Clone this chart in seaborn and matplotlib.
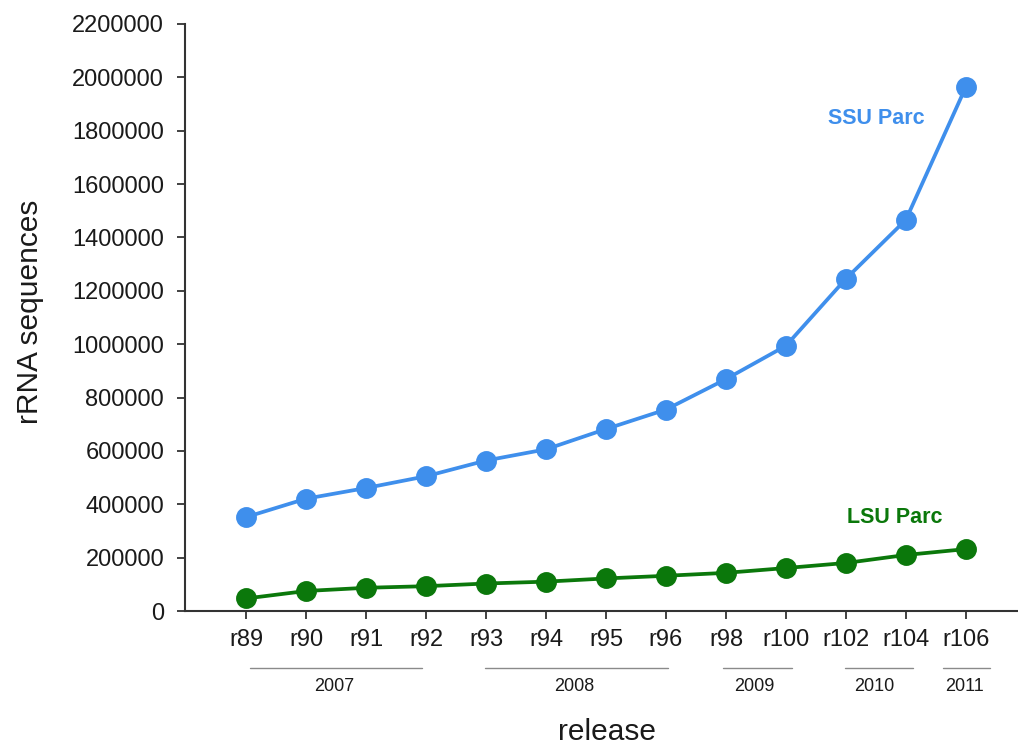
import matplotlib
matplotlib.use("Agg")
import matplotlib.pyplot as plt
import matplotlib.transforms as mtransforms
import pandas as pd
import seaborn as sns

# Release series and sequence counts
releases = ["r89", "r90", "r91", "r92", "r93", "r94", "r95",
            "r96", "r98", "r100", "r102", "r104", "r106"]
ssu_parc = [352000, 421000, 461000, 505000, 564000, 606000, 682000,
            755000, 869000, 994000, 1245000, 1466000, 1964000]
lsu_parc = [47000, 75000, 87000, 93000, 103000, 110000, 122000,
            132000, 143000, 161000, 180000, 210000, 232000]

# Release years: (label, first release, last release)
years = [("2007", "r89", "r92"),
         ("2008", "r93", "r96"),
         ("2009", "r98", "r100"),
         ("2010", "r102", "r104"),
         ("2011", "r106", "r106")]

y_ticks = [0, 200000, 400000, 600000, 800000, 1000000, 1200000,
           1400000, 1600000, 1800000, 2000000, 2200000]

SSU_COLOR = "#3f8fec"
LSU_COLOR = "#0b780b"

# bracket overhang (left, right) in category units for each year group
bracket_pad = [(-0.07, -0.07), (0.02, 0.04), (0.05, 0.10), (0.02, 0.12), (0.38, 0.41)]

sns.set_theme(style="ticks")
plt.rcParams["font.family"] = ["Liberation Sans", "DejaVu Sans"]

df = pd.DataFrame({
    "release": releases * 2,
    "count": ssu_parc + lsu_parc,
    "subunit": ["SSU Parc"] * len(releases) + ["LSU Parc"] * len(releases),
})

fig = plt.figure(figsize=(10.18, 7.47), dpi=100)
W, H = 1018, 747
left, right, bottom, top = 185, 1018, 611, 24
ax = fig.add_axes([left / W, 1 - bottom / H, (right - left) / W, (bottom - top) / H])

for name, color in (("SSU Parc", SSU_COLOR), ("LSU Parc", LSU_COLOR)):
    sns.pointplot(data=df[df.subunit == name], x="release", y="count",
                  order=releases, color=color, markers="o", markersize=13,
                  linewidth=2.7, ax=ax, errorbar=None)

ax.set_ylim(0, 2200000)
ax.set_xlim(-1.02, 12.87)
ax.set_yticks(y_ticks)
ax.set_yticklabels([str(v) for v in y_ticks])
ax.tick_params(axis="y", labelsize=17, length=6, width=1.3, color="#333333",
               pad=9, labelcolor="#1a1a1a")
ax.tick_params(axis="x", labelsize=17, length=6, width=1.3, color="#333333",
               pad=7, labelcolor="#1a1a1a")

sns.despine(ax=ax)
for side in ("left", "bottom"):
    ax.spines[side].set_color("#333333")
    ax.spines[side].set_linewidth(1.5)

ax.set_xlabel("release", fontsize=21.5, color="#1a1a1a")
ax.set_ylabel("rRNA sequences", fontsize=21.5, color="#1a1a1a")
ax.xaxis.label.set_va("center")
ax.yaxis.label.set_va("center")
ax.xaxis.set_label_coords(0.507, -0.206)
ax.yaxis.set_label_coords(-0.186, 0.509)

# Series labels
ax.text(10.5, 1847000, "SSU Parc", color=SSU_COLOR,
        fontsize=15.5, fontweight="bold", ha="center", va="center")
ax.text(10.81, 352000, "LSU Parc", color=LSU_COLOR,
        fontsize=15.5, fontweight="bold", ha="center", va="center")

# Year brackets under the release labels
trans = mtransforms.blended_transform_factory(ax.transData, ax.transAxes)
for (label, first, last), (pl, pr) in zip(years, bracket_pad):
    i0, i1 = releases.index(first), releases.index(last)
    ax.plot([i0 - pl, i1 + pr], [-0.0976, -0.0976], transform=trans,
            color="#8a8a8a", linewidth=1.0, clip_on=False)
    ax.text((i0 + i1) / 2 - 0.03, -0.129, label, transform=trans, fontsize=13,
            ha="center", va="center", color="#1a1a1a")

fig.savefig("out.png", dpi=100)
